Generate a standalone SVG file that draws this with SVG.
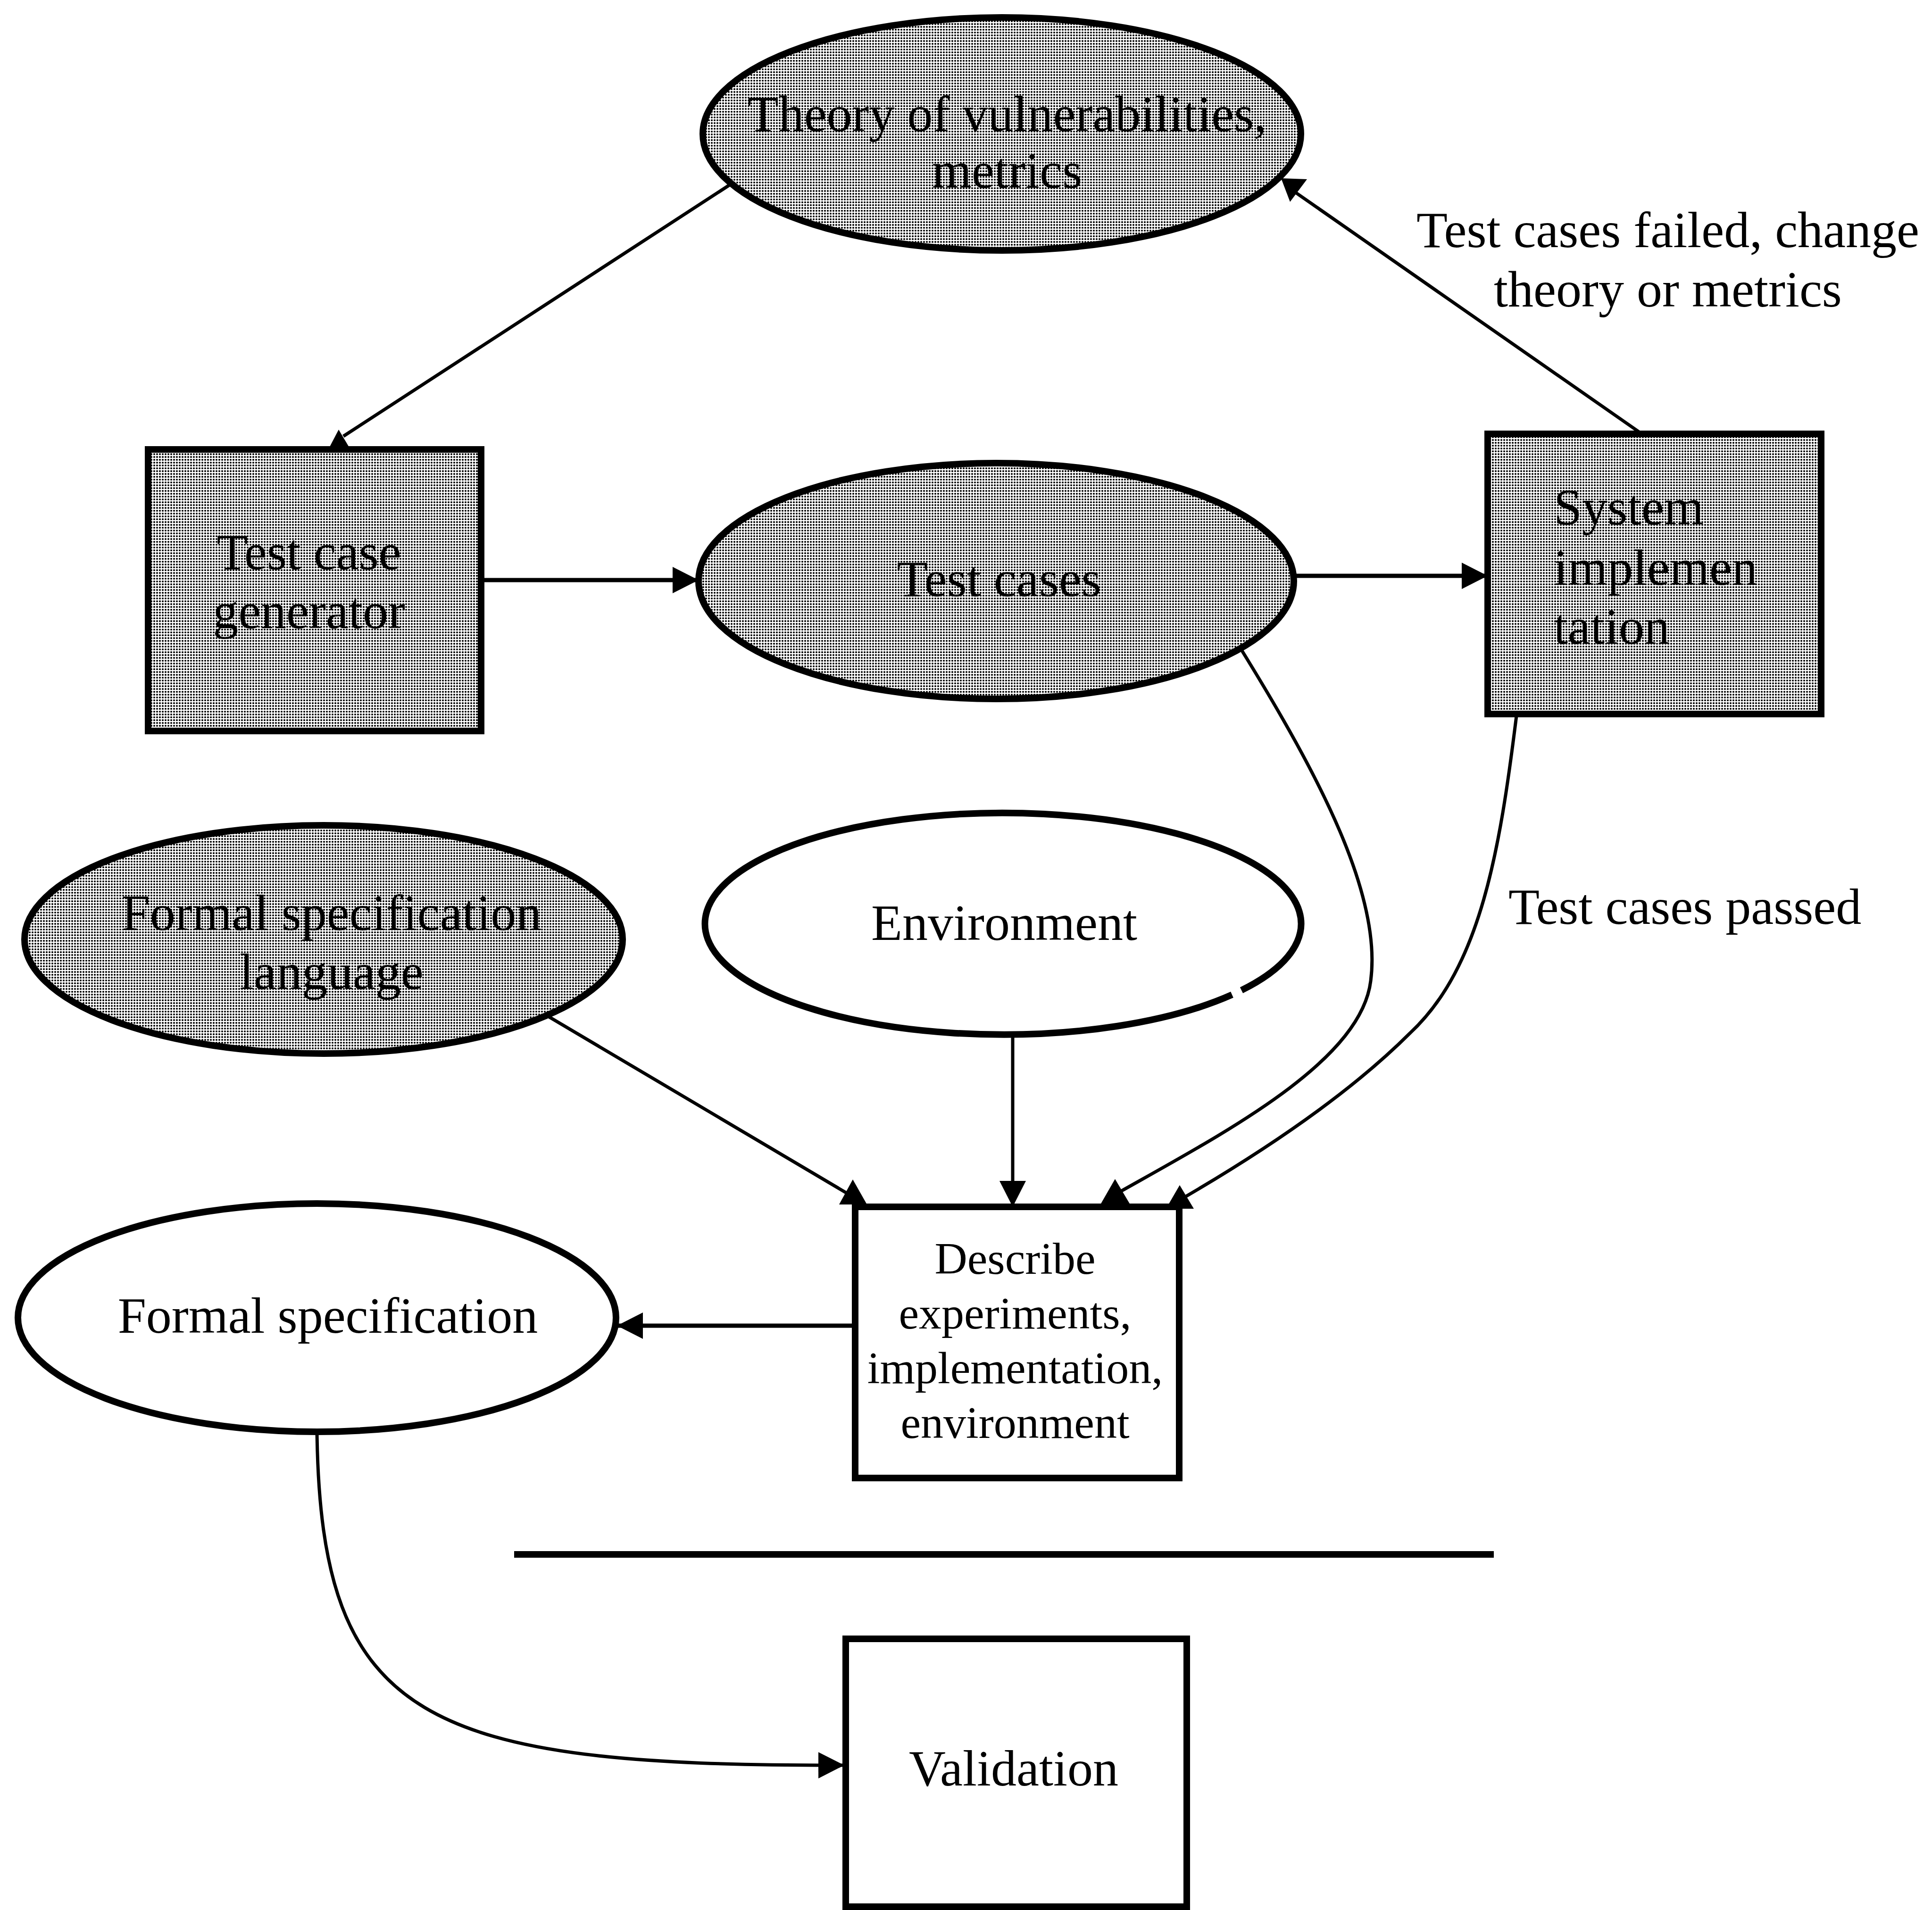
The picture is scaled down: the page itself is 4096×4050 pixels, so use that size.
<svg xmlns="http://www.w3.org/2000/svg" width="4096" height="4050" viewBox="0 0 4096 4050">
<style>
.node{stroke:#000;stroke-width:14}
.shaded{fill:url(#dots)}
.plain{fill:#fff}
.t{font-family:"Liberation Serif","Times New Roman",serif;font-size:108px;fill:#000;text-anchor:middle}
.tl{text-anchor:start}
.small{font-size:96px}
.c{fill:none;stroke:#000;stroke-width:7}
.ch{fill:none;stroke:#000;stroke-width:9}
.ah{fill:#000;stroke:none}
.sep{stroke:#000;stroke-width:14}
</style>
<defs>
<pattern id="dots" width="6" height="6" patternUnits="userSpaceOnUse">
<rect width="6" height="6" fill="#fff"/>
<circle cx="3" cy="3" r="2.1" fill="#000"/>
</pattern>
<marker id="arr" markerUnits="userSpaceOnUse" markerWidth="56" markerHeight="58" refX="55" refY="28" orient="auto" viewBox="0 0 56 58">
<path d="M0,0 L55,28 L0,56 z" fill="#000"/>
</marker>
</defs>
<rect width="4096" height="4050" fill="#fff"/>

<g id="connectors">
<line class="c" x1="1547" y1="392" x2="728" y2="925"/>
<polygon class="ah" points="718,911 696,953 743,953"/>
<line class="ch" x1="1020" y1="1230" x2="1481" y2="1230" marker-end="url(#arr)"/>
<line class="ch" x1="2743" y1="1221" x2="3154" y2="1221" marker-end="url(#arr)"/>
<line class="c" x1="3478" y1="918" x2="2735" y2="400"/>
<polygon class="ah" points="2716,378 2771,380 2735,428"/>
<line class="c" x1="1162" y1="2155" x2="1797" y2="2531"/>
<polygon class="ah" points="1808,2501 1779,2554 1838,2554"/>
<line class="c" x1="2147" y1="2194" x2="2147" y2="2559" marker-end="url(#arr)"/>
<path class="c" d="M2632,1378 C2800,1650 2930,1900 2906,2080 C2885,2250 2600,2400 2378,2525"/>
<polygon class="ah" points="2364,2500 2333,2554 2396,2554"/>
<path class="c" d="M3215,1518 C3180,1800 3140,2050 2990,2190 C2860,2320 2680,2440 2514,2537"/>
<polygon class="ah" points="2501,2513 2472,2563 2531,2563"/>
<line class="ch" x1="1813" y1="2811" x2="1308" y2="2811" marker-end="url(#arr)"/>
<path class="c" d="M672,3037 C680,3650 900,3745 1790,3743" marker-end="url(#arr)"/>
</g>

<g id="theory">
<ellipse class="node shaded" cx="2124" cy="284" rx="634" ry="247"/>
<text class="t" x="2135" y="278">Theory of vulnerabilities,</text>
<text class="t" x="2135" y="398">metrics</text>
</g>

<g id="test-case-generator">
<rect class="node shaded" x="314" y="953" width="706" height="597"/>
<text class="t" x="655" y="1207">Test case</text>
<text class="t" x="655" y="1332">generator</text>
</g>

<g id="test-cases">
<ellipse class="node shaded" cx="2112" cy="1232" rx="631" ry="250"/>
<text class="t" x="2118" y="1264">Test cases</text>
</g>

<g id="system-implementation">
<rect class="node shaded" x="3154" y="920" width="707" height="594"/>
<text class="t tl" x="3294" y="1112">System</text>
<text class="t tl" x="3294" y="1240">implemen</text>
<text class="t tl" x="3294" y="1365">tation</text>
</g>

<g id="label-failed">
<text class="t" x="3536" y="524">Test cases failed, change</text>
<text class="t" x="3536" y="650">theory or metrics</text>
</g>

<g id="label-passed">
<text class="t tl" x="3198" y="1959">Test cases passed</text>
</g>

<g id="formal-specification-language">
<ellipse class="node shaded" cx="686" cy="1992" rx="634" ry="242"/>
<text class="t" x="703" y="1972">Formal specification</text>
<text class="t" x="703" y="2097">language</text>
</g>

<g id="environment">
<path class="node plain" d="M2632,2099.8 A632,235 0 1 0 2612,2109.2"/>
<text class="t" x="2129" y="1993">Environment</text>
</g>

<g id="describe">
<rect class="node plain" x="1813" y="2559" width="687" height="575"/>
<text class="t small" x="2152" y="2701">Describe</text>
<text class="t small" x="2152" y="2817">experiments,</text>
<text class="t small" x="2152" y="2933">implementation,</text>
<text class="t small" x="2152" y="3049">environment</text>
</g>

<g id="formal-specification">
<ellipse class="node plain" cx="672" cy="2794" rx="634" ry="242"/>
<text class="t" x="695" y="2826">Formal specification</text>
</g>

<g id="separator">
<line class="sep" x1="1090" y1="3296" x2="3167" y2="3296"/>
</g>

<g id="validation">
<rect class="node plain" x="1793" y="3475" width="723" height="568"/>
<text class="t" x="2149" y="3786">Validation</text>
</g>
</svg>
